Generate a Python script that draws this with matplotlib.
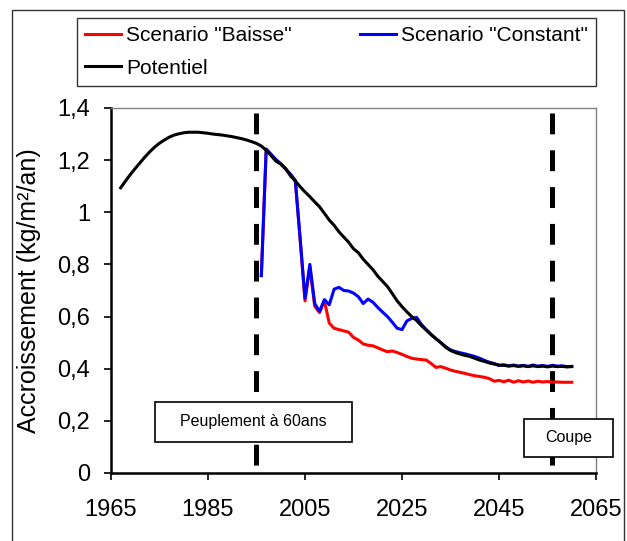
import matplotlib
matplotlib.use("Agg")
import matplotlib.pyplot as plt
import matplotlib.transforms as mtransforms
from matplotlib.patches import Rectangle
from matplotlib.ticker import FuncFormatter

plt.rcParams["font.family"] = ["Liberation Sans", "DejaVu Sans"]
plt.rcParams["lines.scale_dashes"] = False

# potentiel, annual values 1967-2060
pot_years = list(range(1967, 2061))
potentiel = [
    1.094, 1.120, 1.145, 1.168, 1.190, 1.212, 1.232, 1.250, 1.265, 1.277,
    1.288, 1.296, 1.301, 1.305, 1.307, 1.307, 1.307, 1.305, 1.303, 1.300,
    1.298, 1.296, 1.293, 1.290, 1.286, 1.282, 1.277, 1.271, 1.264, 1.254,
    1.238, 1.218, 1.196, 1.185, 1.168, 1.140, 1.120, 1.098, 1.078, 1.060,
    1.040, 1.021, 0.996, 0.970, 0.950, 0.925, 0.905, 0.885, 0.860, 0.845,
    0.820, 0.800, 0.780, 0.755, 0.735, 0.715, 0.688, 0.660, 0.638, 0.618,
    0.600, 0.585, 0.565, 0.548, 0.530, 0.515, 0.500, 0.482, 0.470, 0.462,
    0.456, 0.451, 0.447, 0.440, 0.433, 0.428, 0.422, 0.418, 0.414, 0.413,
    0.410, 0.412, 0.409, 0.411, 0.408, 0.411, 0.408, 0.410, 0.407, 0.410,
    0.408, 0.409, 0.407, 0.408,
]

# scenarios, annual values 1996-2060
sc_years = list(range(1996, 2061))
constant = [
    0.757, 1.242, 1.222, 1.202, 1.186, 1.166, 1.146, 1.122, 0.900, 0.670,
    0.800, 0.650, 0.620, 0.665, 0.645, 0.705, 0.712, 0.700, 0.698, 0.690,
    0.676, 0.650, 0.667, 0.655, 0.635, 0.617, 0.600, 0.578, 0.555, 0.550,
    0.583, 0.593, 0.597, 0.570, 0.550, 0.532, 0.515, 0.500, 0.485, 0.472,
    0.466, 0.461, 0.457, 0.452, 0.447, 0.440, 0.432, 0.425, 0.420, 0.412,
    0.415, 0.411, 0.414, 0.410, 0.413, 0.409, 0.414, 0.410, 0.412, 0.409,
    0.413, 0.410, 0.411, 0.408, 0.409,
]
baisse = [
    0.757, 1.242, 1.222, 1.202, 1.186, 1.166, 1.146, 1.122, 0.895, 0.660,
    0.790, 0.640, 0.615, 0.660, 0.575, 0.555, 0.550, 0.545, 0.540, 0.520,
    0.510, 0.495, 0.490, 0.488, 0.480, 0.472, 0.465, 0.468, 0.462, 0.455,
    0.447, 0.440, 0.437, 0.435, 0.433, 0.420, 0.405, 0.408, 0.402, 0.395,
    0.390, 0.386, 0.382, 0.377, 0.373, 0.370, 0.367, 0.362, 0.352, 0.355,
    0.350, 0.356, 0.348, 0.354, 0.349, 0.353, 0.348, 0.352, 0.349, 0.351,
    0.348, 0.349, 0.348, 0.348, 0.348,
]

event_years = [1995, 2056]
event_labels = ["Peuplement à 60ans", "Coupe"]

fig = plt.figure(figsize=(6.27, 5.41), dpi=100)
ax = fig.add_axes([0.177, 0.1257, 0.7736, 0.6747])

fig.patches.append(Rectangle((12 / 627, -0.02), 612 / 627, 0.02 + 531 / 541,
                             transform=fig.transFigure, fill=False,
                             edgecolor="#333333", linewidth=1.0))

l_b, = ax.plot(sc_years, baisse, color="#ff0000", lw=2.2, label='Scenario "Baisse"', zorder=3)
l_c, = ax.plot(sc_years, constant, color="#0000ff", lw=2.2, label='Scenario "Constant"', zorder=4)
l_p, = ax.plot(pot_years, potentiel, color="black", lw=2.2, label="Potentiel", zorder=5)

trans = mtransforms.blended_transform_factory(ax.transData, ax.transAxes)
for yr in event_years:
    ax.plot([yr, yr], [0.986, 0.008], transform=trans, color="black",
            lw=3.6, dashes=(15, 11.5), solid_capstyle="butt",
            dash_capstyle="butt", zorder=2)

# annotation boxes (axes fraction)
boxes = [(0.0907, 0.085, 0.4063, 0.11), (0.852, 0.044, 0.183, 0.104)]
for (x0, y0, w, h), txt in zip(boxes, event_labels):
    r = Rectangle((x0, y0), w, h, transform=ax.transAxes, facecolor="white",
                  edgecolor="black", linewidth=1.2, zorder=6, clip_on=False)
    ax.add_patch(r)
    ax.text(x0 + w / 2, y0 + h / 2, txt, transform=ax.transAxes,
            ha="center", va="center", fontsize=11.5, zorder=7)

ax.set_xlim(1965, 2065)
ax.set_ylim(0, 1.4)
ax.set_xticks(range(1965, 2066, 20))
ax.set_yticks([0, 0.2, 0.4, 0.6, 0.8, 1.0, 1.2, 1.4])
ax.yaxis.set_major_formatter(FuncFormatter(lambda v, p: ("%g" % round(v, 1)).replace(".", ",")))
ax.tick_params(direction="out", length=5, width=1.2, labelsize=17)
ax.tick_params(axis="x", pad=14)
ax.tick_params(axis="y", pad=10)

for s in ["left", "bottom"]:
    ax.spines[s].set_linewidth(1.8)
    ax.spines[s].set_color("black")
for s in ["top", "right"]:
    ax.spines[s].set_linewidth(1.0)
    ax.spines[s].set_color("#808080")

ax.set_ylabel("Accroissement (kg/m²/an)", fontsize=18)
ax.yaxis.set_label_coords(-0.145, 0.5)

leg = fig.legend([l_b, l_p, l_c], [l_b.get_label(), l_p.get_label(), l_c.get_label()],
                 ncol=2, loc="lower left",
                 bbox_to_anchor=(77 / 627, (541 - 86) / 541, 519 / 627, 67 / 541),
                 mode="expand", fontsize=15, frameon=True, fancybox=False,
                 edgecolor="black", handlelength=1.7, handletextpad=0.25,
                 labelspacing=0.65, borderpad=0.4, borderaxespad=0)
leg.get_frame().set_linewidth(1.0)

fig.savefig("out.png", dpi=100)
